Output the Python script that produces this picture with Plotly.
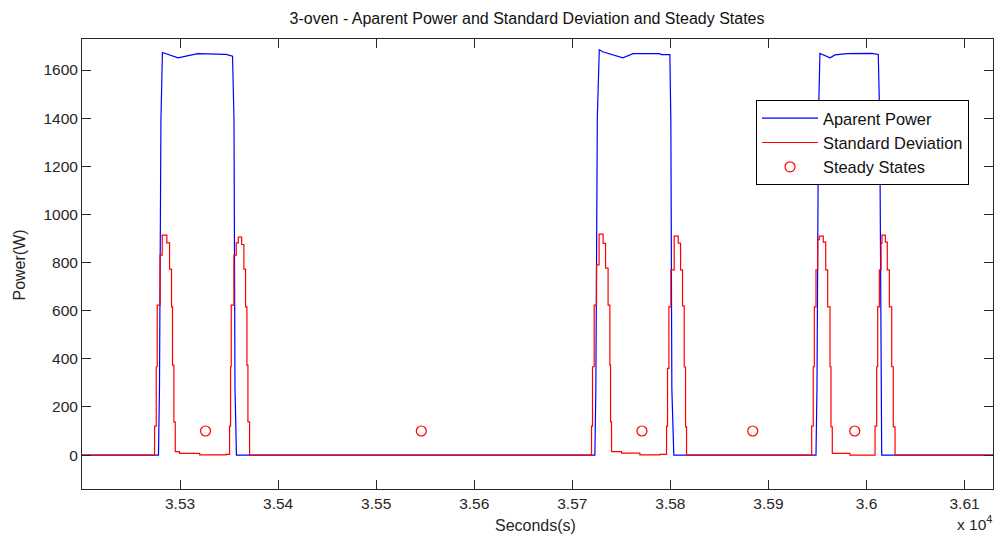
import plotly.graph_objects as go

# ---------------- data ----------------
# Apparent power (W) vs time (s)
ap_t = [35200, 35278, 35279, 35280.5, 35282, 35298, 35318, 35347, 35353.5, 35355, 35356, 35357.5,
        35723, 35724, 35725.5, 35727.5, 35731, 35751.5, 35762, 35789, 35791, 35799.5, 35800.5, 35801.5, 35803.5,
        35948.5, 35949.5, 35951, 35952.5, 35962.8, 35968, 35980, 36005.3, 36012, 36013.5, 36014.5, 36015.5,
        36129]
ap_w = [0, 0, 280, 1392, 1673, 1651, 1668, 1665, 1658, 1392, 280, 0,
        0, 280, 1400, 1684, 1676, 1651, 1668, 1668, 1664, 1664, 1385, 275, 0,
        0, 280, 1400, 1669, 1651, 1663, 1668, 1669, 1665, 1390, 275, 0,
        0]

# Standard deviation (W) vs time (s), step samples
sd_t = [35200,
        35274.0, 35275.7, 35276.7, 35279.6, 35281.8, 35286.5, 35289.3, 35291.3, 35292.3, 35293.7, 35295.1,
        35299.5, 35320.0, 35347.0,
        35350.5, 35351.5, 35352.2, 35354.9, 35357.3, 35359.4, 35362.8, 35365.1, 35366.8, 35368.2, 35369.2,
        35370.9,
        35719.6, 35720.6, 35722.3, 35724.7, 35727.3, 35731.4, 35733.9, 35736.5, 35738.3, 35739.0, 35740.0,
        35750.2, 35768.9, 35789.3,
        35796.1, 35797.1, 35798.5, 35800.5, 35803.9, 35808.0, 35810.4, 35812.4, 35814.1, 35815.5, 35816.5,
        35944.1, 35945.7, 35946.8, 35948.5, 35950.2, 35951.8, 35955.9, 35958.4, 35960.4, 35962.8, 35963.8,
        35965.1, 35983.2,
        36008.7, 36010.4, 36011.4, 36013.1, 36014.8, 36015.8, 36019.2, 36021.2, 36023.3, 36025.7, 36027.3,
        36029.1, 36129]
sd_w = [0,
        120, 367, 623, 831, 914, 882, 773, 616, 374, 138, 14,
        7, 1, 3,
        120, 367, 623, 831, 882, 906, 875, 773, 616, 374, 138,
        0,
        120, 367, 623, 790, 918, 880, 777, 623, 374, 138, 14,
        8, 1, 3,
        120, 360, 616, 770, 910, 881, 770, 620, 366, 117, 0,
        120, 367, 616, 770, 895, 910, 885, 770, 616, 367, 117,
        7, 0,
        120, 367, 616, 770, 880, 914, 885, 770, 616, 367, 117,
        0, 0]

# Steady states
ss_t = [35326, 35546, 35771, 35884, 35988]
ss_w = [100, 100, 100, 100, 100]

x_tickvals = [35300, 35400, 35500, 35600, 35700, 35800, 35900, 36000, 36100]
x_ticktext = ["3.53", "3.54", "3.55", "3.56", "3.57", "3.58", "3.59", "3.6", "3.61"]
y_tickvals = [0, 200, 400, 600, 800, 1000, 1200, 1400, 1600]

# ---------------- figure ----------------
FONT = "Liberation Sans, Arial, sans-serif"
AX = "#262626"

fig = go.Figure()
fig.add_trace(go.Scatter(x=ap_t, y=ap_w, mode="lines", name="Aparent Power",
                         line=dict(color="#0000FF", width=1.2)))
fig.add_trace(go.Scatter(x=sd_t, y=sd_w, mode="lines", name="Standard Deviation",
                         line=dict(color="#FF0000", width=1.2, shape="hv")))
fig.add_trace(go.Scatter(x=ss_t, y=ss_w, mode="markers", name="Steady States",
                         marker=dict(symbol="circle-open", size=10, color="#FF0000",
                                     line=dict(width=1.2, color="#FF0000"))))

L, R, T, B = 82, 7, 39, 59
W, H = 1000, 548
pw, ph = W - L - R, H - T - B


def px2x(px):
    return (px - L) / pw


def py2y(py):
    return (H - B - py) / ph


fig.update_layout(
    width=W, height=H, autosize=False,
    margin=dict(l=L, r=R, t=T, b=B, pad=0),
    paper_bgcolor="white", plot_bgcolor="white",
    font=dict(family=FONT, color=AX, size=15.5),
    title=dict(text="3-oven - Aparent Power and Standard Deviation and Steady States",
               font=dict(family=FONT, size=16, color="#111111"),
               x=px2x(527), xref="paper", xanchor="center",
               y=1 - 18.5 / H, yref="container", yanchor="middle"),
    showlegend=True,
    legend=dict(x=px2x(756), xanchor="left", y=py2y(100), yanchor="top",
                bgcolor="white", bordercolor="#000000", borderwidth=1,
                font=dict(family=FONT, size=16.4, color="#111111"),
                itemwidth=56, tracegroupgap=0),
    xaxis=dict(range=[35200, 36129], tickmode="array", tickvals=x_tickvals, ticktext=x_ticktext,
               ticks="inside", ticklen=9, tickcolor=AX, tickwidth=1,
               showline=True, linecolor=AX, linewidth=1, mirror="ticks",
               showgrid=False, zeroline=False, tickfont=dict(size=15.5, color=AX)),
    yaxis=dict(range=[-141, 1729], tickmode="array", tickvals=y_tickvals,
               ticks="inside", ticklen=9, tickcolor=AX, tickwidth=1,
               showline=True, linecolor=AX, linewidth=1, mirror="ticks",
               showgrid=False, zeroline=False, tickfont=dict(size=15.5, color=AX)),
    annotations=[
        dict(text="Seconds(s)", xref="paper", yref="paper", x=px2x(535), y=py2y(525.5),
             xanchor="center", yanchor="middle", showarrow=False,
             font=dict(family=FONT, size=16, color=AX)),
        dict(text="Power(W)", xref="paper", yref="paper", x=px2x(19), y=py2y(264.5),
             xanchor="center", yanchor="middle", textangle=-90, showarrow=False,
             font=dict(family=FONT, size=16, color=AX)),
        dict(text="x 10<sup>4</sup>", xref="paper", yref="paper", x=px2x(994), y=py2y(523),
             xanchor="right", yanchor="middle", showarrow=False,
             font=dict(family=FONT, size=15.5, color=AX)),
    ],
)

fig.write_html("out.html", config={"displayModeBar": False},
               post_script="document.body.style.margin='0';")
